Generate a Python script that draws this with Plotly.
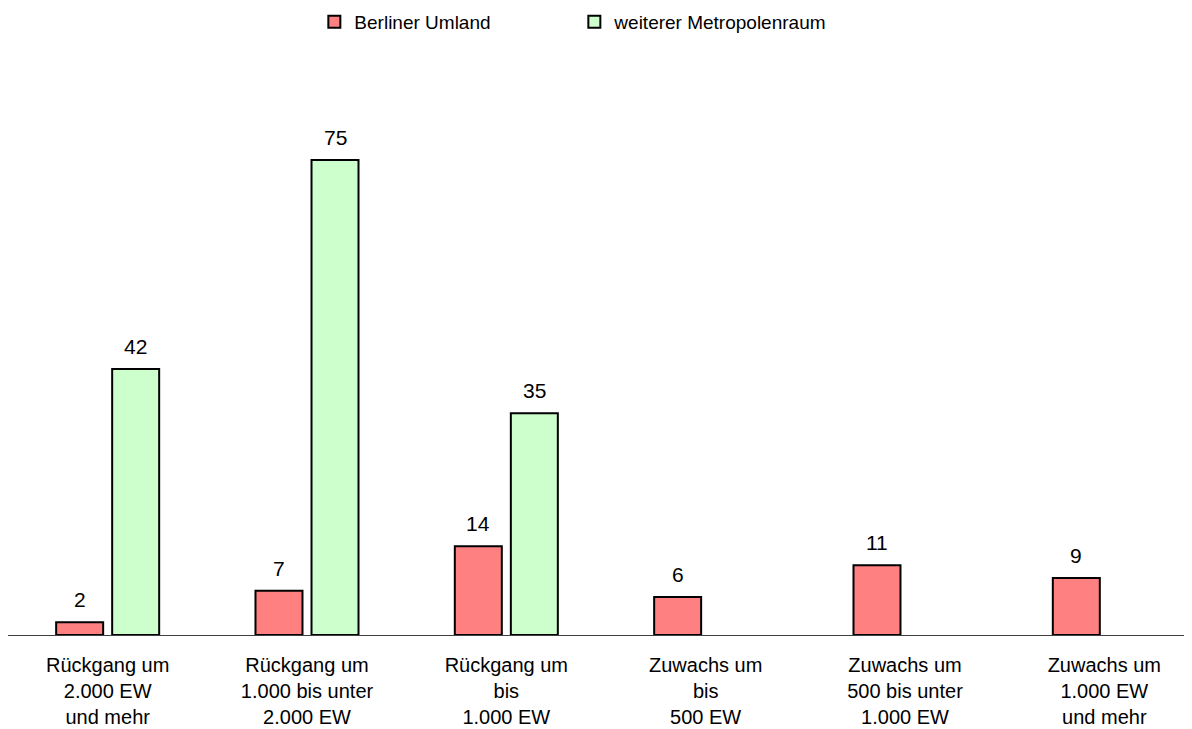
import plotly.graph_objects as go

categories = [
    "Rückgang um<br>2.000 EW<br>und mehr",
    "Rückgang um<br>1.000 bis unter<br>2.000 EW",
    "Rückgang um<br>bis<br>1.000 EW",
    "Zuwachs um<br>bis<br>500 EW",
    "Zuwachs um<br>500 bis unter<br>1.000 EW",
    "Zuwachs um<br>1.000 EW<br>und mehr",
]
berliner_umland = [2, 7, 14, 6, 11, 9]
weiterer_metropolenraum = [42, 75, 35, None, None, None]

series_names = ["Berliner Umland", "weiterer Metropolenraum"]
colors = ["#FF8080", "#CCFFCC"]

xs = list(range(len(categories)))
FONT = "Liberation Sans, Arial, sans-serif"

fig = go.Figure()
for name, vals, col in zip(series_names, [berliner_umland, weiterer_metropolenraum], colors):
    fig.add_trace(go.Bar(
        x=xs, y=vals, name=name,
        marker=dict(color=col, line=dict(color="#000000", width=2)),
        hoverinfo="skip",
    ))

offsets = [-0.1405, 0.1405]
for off, vals in zip(offsets, [berliner_umland, weiterer_metropolenraum]):
    for i, v in enumerate(vals):
        if v is None:
            continue
        fig.add_annotation(
            x=xs[i] + off, y=v, text=str(v), showarrow=False,
            xanchor="center", yanchor="bottom", yshift=9,
            font=dict(family=FONT, size=21, color="#000000"),
        )

fig.update_layout(
    width=1192, height=729,
    margin=dict(l=0, r=0, t=82, b=102, autoexpand=False),
    paper_bgcolor="#FFFFFF", plot_bgcolor="#FFFFFF",
    barmode="group", bargap=0.438, bargroupgap=0.161,
    font=dict(family=FONT, size=20, color="#000000"),
    showlegend=True,
    legend=dict(
        orientation="h", x=0.257, xanchor="left",
        yref="container", y=1 - 14 / 729, yanchor="middle",
        entrywidth=215, entrywidthmode="pixels",
        font=dict(family=FONT, size=19, color="#000000"),
        itemclick=False,
    ),
    xaxis=dict(
        range=[-0.5, 5.48], tickmode="array", tickvals=xs, ticktext=categories,
        showline=True, linecolor="#404040", linewidth=1,
        showgrid=False, zeroline=False, ticks="",
        ticklabelstandoff=12,
        tickfont=dict(family=FONT, size=20, color="#000000"),
        fixedrange=True, automargin=False,
    ),
    yaxis=dict(
        range=[0, 86.05], showgrid=False, zeroline=False,
        showticklabels=False, showline=False, ticks="", fixedrange=True,
    ),
)

fig.write_html("out.html")
